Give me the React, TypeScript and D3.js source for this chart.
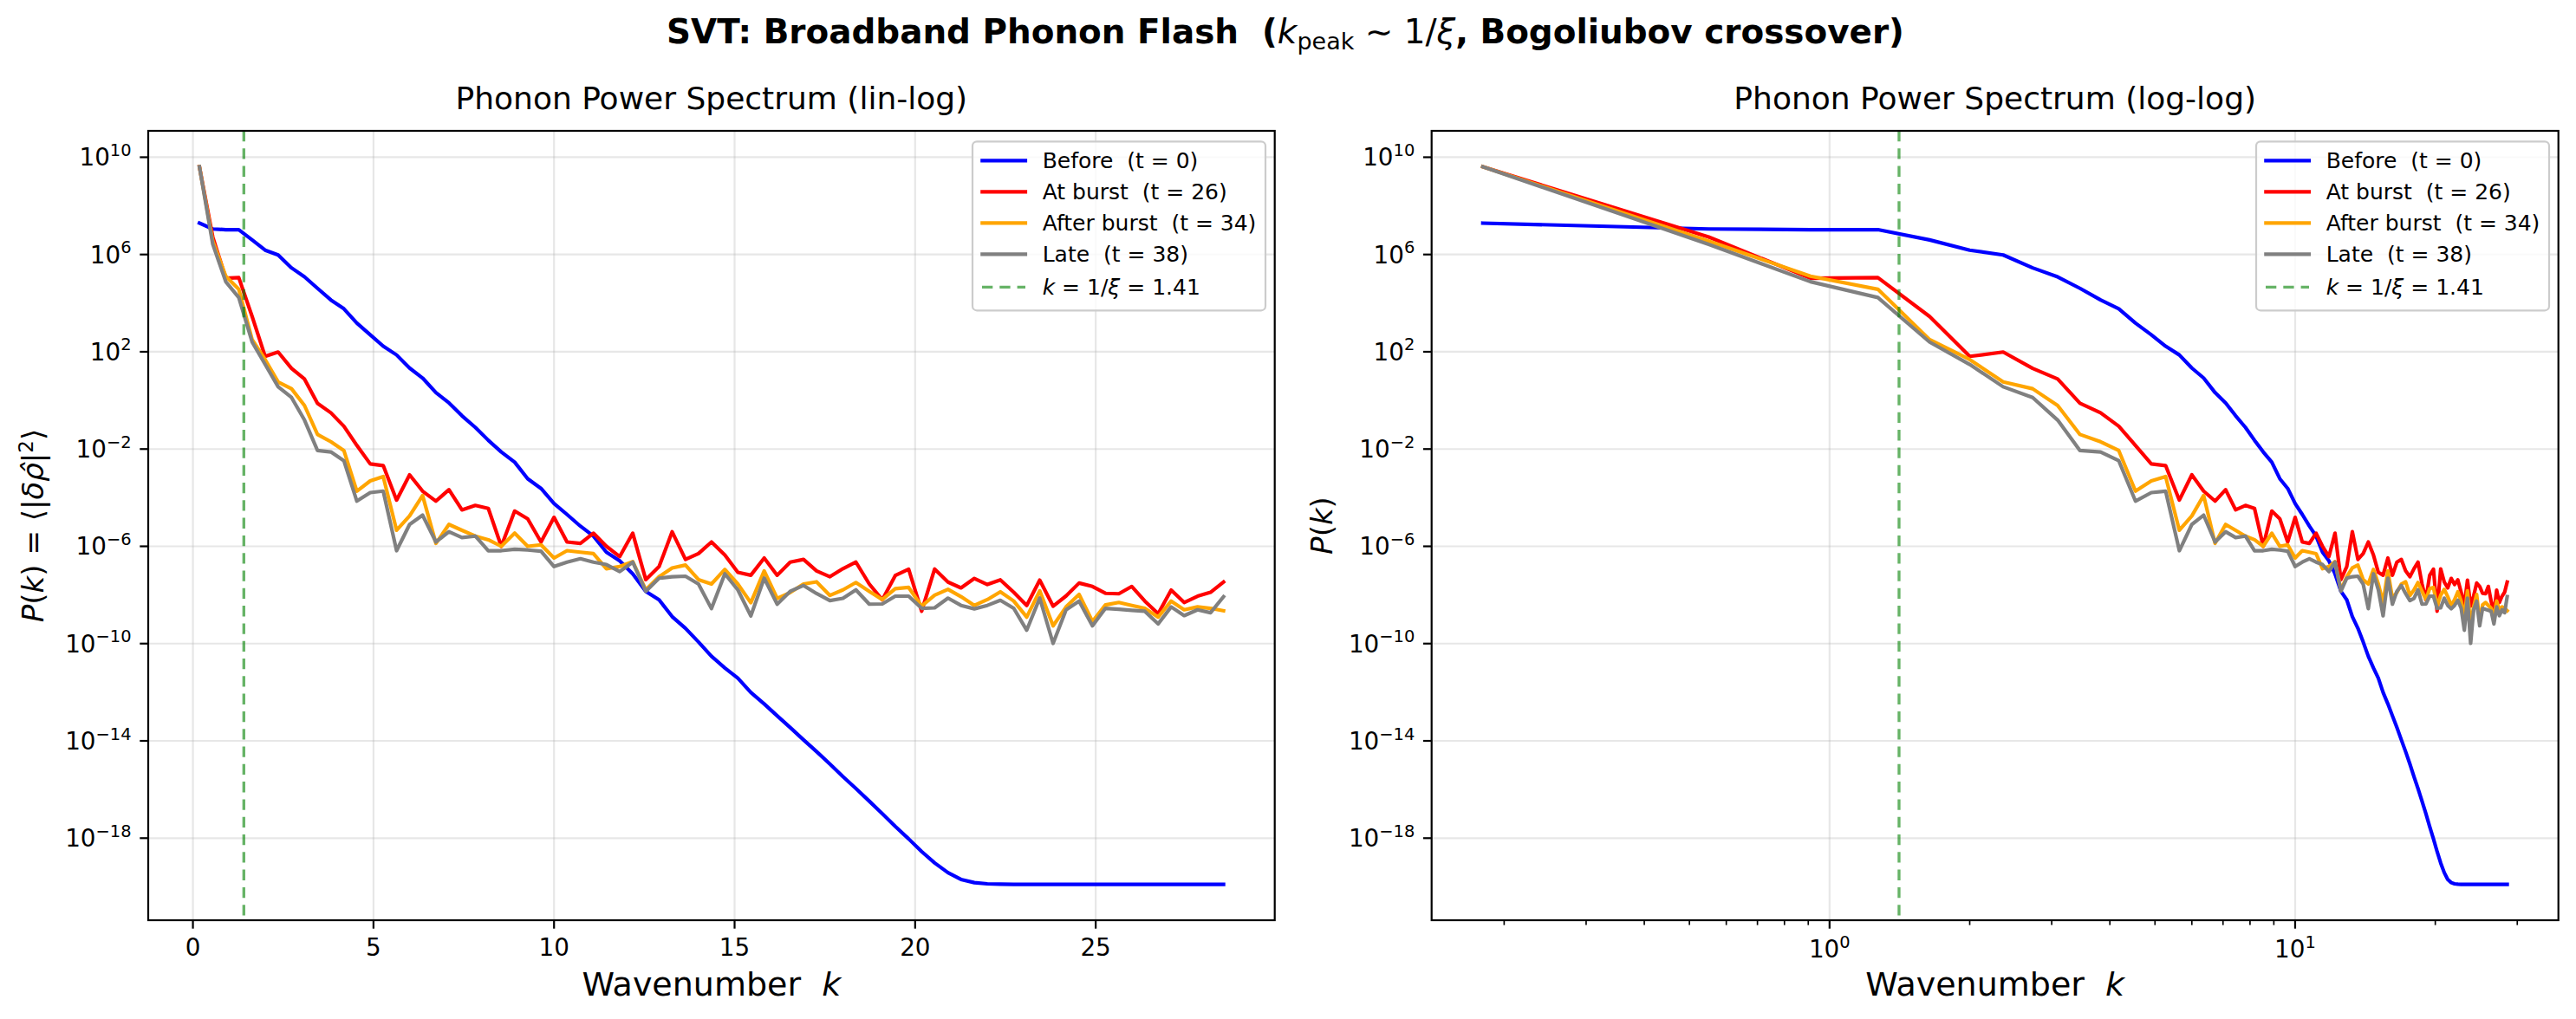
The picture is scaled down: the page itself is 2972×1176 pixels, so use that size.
import React from "react";
import * as d3 from "d3";

const WIDTH = 2972;
const HEIGHT = 1176;
const FONT = "'DejaVu Sans', sans-serif";

// wavenumber bin centres
const kBins = [
  0.18, 0.55, 0.91, 1.27, 1.64, 2.0, 2.36, 2.73, 3.09, 3.45,
  3.82, 4.18, 4.54, 4.91, 5.27, 5.64, 6.0, 6.36, 6.73, 7.09,
  7.45, 7.82, 8.18, 8.54, 8.91, 9.27, 9.64, 10.0, 10.36, 10.73,
  11.09, 11.45, 11.82, 12.18, 12.54, 12.91, 13.27, 13.64, 14.0, 14.36,
  14.73, 15.09, 15.45, 15.82, 16.18, 16.54, 16.91, 17.27, 17.64, 18.0,
  18.36, 18.73, 19.09, 19.45, 19.82, 20.18, 20.54, 20.91, 21.27, 21.64,
  22.0, 22.36, 22.73, 23.09, 23.45, 23.82, 24.18, 24.54, 24.91, 25.27,
  25.64, 26.0, 26.36, 26.73, 27.09, 27.45, 27.82, 28.18, 28.54,
];

// P(k) at t = 0
const powerBefore = [
  1.95e7, 1.12e7, 1.05e7, 1.05e7, 3.98e6, 1.51e6, 9.55e5, 2.82e5, 1.2e5, 4.07e4,
  1.35e4, 5.89e3, 1.51e3, 501, 170, 74.1, 21.4, 8.32, 2.09, 0.794,
  0.234, 7.76e-2, 2.29e-2, 7.59e-3, 2.88e-3, 6.03e-4, 2.4e-4, 5.75e-5, 2.04e-5, 6.76e-6,
  2.63e-6, 5.75e-7, 2.51e-7, 7.41e-8, 1.41e-8, 6.31e-9, 1.29e-9, 4.27e-10, 1.17e-10, 3.02e-11,
  1.0e-11, 3.8e-12, 9.77e-13, 3.31e-13, 1.07e-13, 3.55e-14, 1.1e-14, 3.63e-15, 1.12e-15, 3.39e-16,
  1.1e-16, 3.31e-17, 1.02e-17, 3.02e-18, 9.33e-19, 2.82e-19, 9.55e-20, 3.8e-20, 2.0e-20, 1.48e-20,
  1.32e-20, 1.28e-20, 1.26e-20, 1.26e-20, 1.26e-20, 1.26e-20, 1.26e-20, 1.26e-20, 1.26e-20, 1.26e-20,
  1.26e-20, 1.26e-20, 1.26e-20, 1.26e-20, 1.26e-20, 1.26e-20, 1.26e-20, 1.26e-20, 1.26e-20,
];

// P(k) at t = 26
const powerBurst = [
  4.07e9, 5.25e6, 1.05e5, 1.12e5, 2.82e3, 64.6, 97.7, 20.9, 7.59, 0.759,
  0.309, 8.71e-2, 1.41e-2, 2.45e-3, 2.09e-3, 7.94e-5, 8.71e-4, 1.86e-4, 7.24e-5, 2.14e-4,
  3.16e-5, 4.79e-5, 3.63e-5, 1.0e-6, 2.82e-5, 1.35e-5, 1.51e-6, 1.55e-5, 1.51e-6, 1.32e-6,
  3.47e-6, 1.0e-6, 3.8e-7, 3.47e-6, 4.27e-8, 1.48e-7, 3.98e-6, 2.88e-7, 5.01e-7, 1.51e-6,
  4.37e-7, 8.51e-8, 6.46e-8, 3.31e-7, 6.46e-8, 2.24e-7, 2.88e-7, 9.77e-8, 5.62e-8, 1.2e-7,
  2.24e-7, 2.82e-8, 6.31e-9, 6.31e-8, 1.15e-7, 2.14e-9, 1.17e-7, 3.39e-8, 1.95e-8, 4.79e-8,
  2.69e-8, 4.17e-8, 1.29e-8, 3.72e-9, 4.07e-8, 3.47e-9, 9.12e-9, 3.09e-8, 2.24e-8, 1.17e-8,
  1.12e-8, 2.24e-8, 5.62e-9, 1.7e-9, 1.58e-8, 4.9e-9, 8.91e-9, 1.29e-8, 3.39e-8,
];

// P(k) at t = 34
const powerAfter = [
  4.07e9, 3.55e6, 1.29e5, 3.72e4, 316, 47.9, 5.75, 3.02, 0.617, 3.98e-2,
  2.0e-2, 8.71e-3, 1.86e-4, 4.9e-4, 7.41e-4, 4.57e-6, 1.78e-5, 1.23e-4, 1.32e-6, 7.94e-6,
  4.57e-6, 2.63e-6, 1.86e-6, 1.0e-6, 3.47e-6, 1.0e-6, 1.15e-6, 3.31e-7, 6.61e-7, 5.75e-7,
  5.01e-7, 1.2e-7, 1.48e-7, 2.34e-7, 1.62e-8, 5.62e-8, 1.29e-7, 1.7e-7, 4.27e-8, 2.82e-8,
  1.12e-7, 2.82e-8, 4.79e-9, 9.77e-8, 7.24e-9, 1.26e-8, 2.82e-8, 3.47e-8, 9.55e-9, 1.62e-8,
  3.24e-8, 1.41e-8, 6.46e-9, 1.82e-8, 2.04e-8, 3.47e-9, 9.77e-9, 1.7e-8, 8.51e-9, 3.72e-9,
  6.46e-9, 1.35e-8, 5.62e-9, 1.23e-9, 1.48e-8, 5.37e-10, 3.24e-9, 1.05e-8, 8.13e-10, 3.89e-9,
  4.9e-9, 3.72e-9, 2.82e-9, 1.23e-9, 5.62e-9, 2.45e-9, 3.24e-9, 2.82e-9, 2.24e-9,
];

// P(k) at t = 38
const powerLate = [
  4.07e9, 2.63e6, 7.59e4, 1.7e4, 251, 30.2, 3.63, 1.32, 0.155, 8.71e-3,
  7.59e-3, 3.31e-3, 7.24e-5, 1.62e-4, 1.86e-4, 6.61e-7, 7.94e-6, 1.91e-5, 1.51e-6, 3.98e-6,
  2.29e-6, 2.63e-6, 6.61e-7, 6.61e-7, 7.59e-7, 7.08e-7, 6.31e-7, 1.48e-7, 2.24e-7, 3.09e-7,
  2.24e-7, 1.78e-7, 9.12e-8, 2.24e-7, 1.41e-8, 4.9e-8, 5.62e-8, 5.89e-8, 2.82e-8, 2.75e-9,
  7.41e-8, 1.62e-8, 1.38e-9, 4.9e-8, 4.17e-9, 1.41e-8, 2.45e-8, 1.15e-8, 5.89e-9, 7.24e-9,
  1.62e-8, 4.17e-9, 4.27e-9, 8.91e-9, 8.91e-9, 2.82e-9, 2.95e-9, 7.41e-9, 3.72e-9, 2.69e-9,
  3.72e-9, 6.03e-9, 2.82e-9, 3.55e-10, 7.41e-9, 1.02e-10, 2.45e-9, 5.62e-9, 5.37e-10, 2.82e-9,
  2.57e-9, 2.34e-9, 2.14e-9, 6.46e-10, 3.24e-9, 1.41e-9, 2.45e-9, 1.86e-9, 8.51e-9,
];

const kXi = 1.41;

const seriesLabels = ["Before  (t = 0)", "At burst  (t = 26)", "After burst  (t = 34)", "Late  (t = 38)"];
const seriesColors = ["#0000ff", "#ff0000", "#ffa500", "#808080"];
const seriesData = [powerBefore, powerBurst, powerAfter, powerLate];

const linTicks = [0, 5, 10, 15, 20, 25];
const logTicksX = [1, 10];
const logTickExpX = ["0", "1"];
const yTickExps = [10, 6, 2, -2, -6, -10, -14, -18];

const TICK = 9.7;
const MINOR = 5.6;
const PAD = 9.7;
const TICK_FS = 27.8;
const LEG_FS = 25;
const XLABEL_FS = 38;
const YLABEL_FS = 34;

const fmtExp = (e: number) => (e < 0 ? "\u2212" + Math.abs(e) : String(e));

function Pow10({ x, y, exp, anchor }: { x: number; y: number; exp: string; anchor: "end" | "middle" }) {
  return (
    <text x={x} y={y} textAnchor={anchor} fontSize={TICK_FS} fontFamily={FONT} fill="#000">
      10
      <tspan dy={-11.5} fontSize={TICK_FS * 0.7}>{exp}</tspan>
    </text>
  );
}

type PanelProps = {
  left: number;
  right: number;
  top: number;
  bottom: number;
  logX: boolean;
  title: string;
  yLabel: React.ReactNode;
  yLabelX: number;
  id: string;
};

function Panel({ left, right, top, bottom, logX, title, yLabel, yLabelX, id }: PanelProps) {
  // log-space extent with a 5% margin, as matplotlib autoscaling does
  const [pMin, pMax] = d3.extent(seriesData.flat()) as [number, number];
  const lyLo = Math.log10(pMin);
  const lyHi = Math.log10(pMax);
  const yPad = 0.05 * (lyHi - lyLo);
  const y = d3.scaleLog().domain([10 ** (lyLo - yPad), 10 ** (lyHi + yPad)]).range([bottom, top]);

  const [kMin, kMax] = d3.extent(kBins) as [number, number];
  let x: (v: number) => number;
  let minorX: number[] = [];
  if (logX) {
    const lo = Math.log10(kMin);
    const hi = Math.log10(kMax);
    const p = 0.05 * (hi - lo);
    const sx = d3.scaleLog().domain([10 ** (lo - p), 10 ** (hi + p)]).range([left, right]);
    x = sx;
    minorX = sx.ticks().filter((v) => Math.abs(Math.log10(v) - Math.round(Math.log10(v))) > 1e-6);
  } else {
    const p = 0.05 * (kMax - kMin);
    x = d3.scaleLinear().domain([kMin - p, kMax + p]).range([left, right]);
  }
  const majorX = logX ? logTicksX : linTicks;

  const line = d3
    .line<number>()
    .x((_, i) => x(kBins[i]))
    .y((d) => y(d));

  const cx = (left + right) / 2;
  const cy = (top + bottom) / 2;

  // legend box, upper right
  const legW = 338;
  const legH = 195;
  const legX = right - 10.7 - legW;
  const legY = top + 12.3;
  const rowY = [22, 58, 94, 130, 168];

  return (
    <g>
      <defs>
        <clipPath id={id}>
          <rect x={left} y={top} width={right - left} height={bottom - top} />
        </clipPath>
      </defs>

      {/* grid */}
      <g stroke="#b0b0b0" strokeOpacity={0.3} strokeWidth={2.2}>
        {majorX.map((v) => (
          <line key={"gx" + v} x1={x(v)} x2={x(v)} y1={top} y2={bottom} />
        ))}
        {yTickExps.map((e) => (
          <line key={"gy" + e} x1={left} x2={right} y1={y(10 ** e)} y2={y(10 ** e)} />
        ))}
      </g>

      {/* spectra */}
      <g clipPath={`url(#${id})`} fill="none" strokeWidth={4.17} strokeLinejoin="round" strokeLinecap="square">
        {seriesData.map((s, i) => (
          <path key={i} d={line(s) || ""} stroke={seriesColors[i]} />
        ))}
        <line
          x1={x(kXi)}
          x2={x(kXi)}
          y1={top}
          y2={bottom}
          stroke="#008000"
          strokeOpacity={0.6}
          strokeWidth={3.33}
          strokeDasharray="12.3,8"
          strokeLinecap="butt"
        />
      </g>

      {/* spines */}
      <rect x={left} y={top} width={right - left} height={bottom - top} fill="none" stroke="#000" strokeWidth={2.2} />

      {/* ticks */}
      <g stroke="#000">
        {majorX.map((v) => (
          <line key={"tx" + v} x1={x(v)} x2={x(v)} y1={bottom} y2={bottom + TICK} strokeWidth={2.2} />
        ))}
        {minorX.map((v) => (
          <line key={"mx" + v} x1={x(v)} x2={x(v)} y1={bottom} y2={bottom + MINOR} strokeWidth={1.67} />
        ))}
        {yTickExps.map((e) => (
          <line key={"ty" + e} x1={left - TICK} x2={left} y1={y(10 ** e)} y2={y(10 ** e)} strokeWidth={2.2} />
        ))}
      </g>

      {logX
        ? logTicksX.map((v, i) => (
            <Pow10 key={"lx" + v} x={x(v)} y={bottom + 43} exp={logTickExpX[i]} anchor="middle" />
          ))
        : linTicks.map((v) => (
            <text key={"lx" + v} x={x(v)} y={bottom + 41} textAnchor="middle" fontSize={TICK_FS} fontFamily={FONT}>
              {v}
            </text>
          ))}
      {yTickExps.map((e) => (
        <Pow10 key={"ly" + e} x={left - TICK - PAD} y={y(10 ** e) + 10} exp={fmtExp(e)} anchor="end" />
      ))}

      {/* titles */}
      <text x={cx} y={top - 25} textAnchor="middle" fontSize={36} fontFamily={FONT}>
        {title}
      </text>
      <text x={cx} y={bottom + 87} textAnchor="middle" fontSize={XLABEL_FS} fontFamily={FONT} style={{ whiteSpace: "pre" }}>
        {"Wavenumber  "}
        <tspan fontStyle="italic">k</tspan>
      </text>
      <text
        transform={`translate(${yLabelX},${cy}) rotate(-90)`}
        textAnchor="middle"
        fontSize={YLABEL_FS}
        fontFamily={FONT}
      >
        {yLabel}
      </text>

      {/* legend */}
      <g>
        <rect x={legX} y={legY} width={legW} height={legH} rx={5} fill="#fff" fillOpacity={0.8} stroke="#cccccc" strokeWidth={2.2} />
        {seriesLabels.map((lab, i) => (
          <g key={lab}>
            <line
              x1={legX + 11.3}
              x2={legX + 61}
              y1={legY + rowY[i]}
              y2={legY + rowY[i]}
              stroke={seriesColors[i]}
              strokeWidth={4.17}
              strokeLinecap="square"
            />
            <text x={legX + 80.7} y={legY + rowY[i] + 9} fontSize={LEG_FS} fontFamily={FONT} style={{ whiteSpace: "pre" }}>
              {lab}
            </text>
          </g>
        ))}
        <line
          x1={legX + 11}
          x2={legX + 61}
          y1={legY + rowY[4]}
          y2={legY + rowY[4]}
          stroke="#008000"
          strokeOpacity={0.6}
          strokeWidth={3.33}
          strokeDasharray="12.3,8"
        />
        <text x={legX + 80.7} y={legY + rowY[4] + 9} fontSize={LEG_FS} fontFamily={FONT}>
          <tspan fontStyle="italic">k</tspan> = 1/<tspan fontStyle="italic">ξ</tspan> = {kXi.toFixed(2)}
        </text>
      </g>
    </g>
  );
}

export default function App() {
  const top = 151;
  const bottom = 1062;
  return (
    <svg
      width={WIDTH}
      height={HEIGHT}
      viewBox={`0 0 ${WIDTH} ${HEIGHT}`}
      style={{ position: "absolute", left: 0, top: 0, background: "#fff" }}
    >
      <rect width={WIDTH} height={HEIGHT} fill="#fff" />
      <text x={1483} y={50} textAnchor="middle" fontSize={38.9} fontWeight="bold" fontFamily={FONT} style={{ whiteSpace: "pre" }}>
        {"SVT: Broadband Phonon Flash  ("}
        <tspan fontWeight="normal" fontStyle="italic">k</tspan>
        <tspan fontWeight="normal" fontSize={27} dy={7}>peak</tspan>
        <tspan fontWeight="normal" dy={-7}>{" \u223C 1/"}</tspan>
        <tspan fontWeight="normal" fontStyle="italic">ξ</tspan>
        {", Bogoliubov crossover)"}
      </text>

      <Panel
        id="clipLin"
        left={171}
        right={1470.7}
        top={top}
        bottom={bottom}
        logX={false}
        title="Phonon Power Spectrum (lin-log)"
        yLabelX={50}
        yLabel={
          <>
            <tspan fontStyle="italic">P</tspan>(<tspan fontStyle="italic">k</tspan>) = ⟨|
            <tspan fontStyle="italic">δρ̂</tspan>|<tspan dy={-12} fontSize={23}>2</tspan>
            <tspan dy={12}>⟩</tspan>
          </>
        }
      />
      <Panel
        id="clipLog"
        left={1651.7}
        right={2951.7}
        top={top}
        bottom={bottom}
        logX={true}
        title="Phonon Power Spectrum (log-log)"
        yLabelX={1537}
        yLabel={
          <>
            <tspan fontStyle="italic">P</tspan>(<tspan fontStyle="italic">k</tspan>)
          </>
        }
      />
    </svg>
  );
}
